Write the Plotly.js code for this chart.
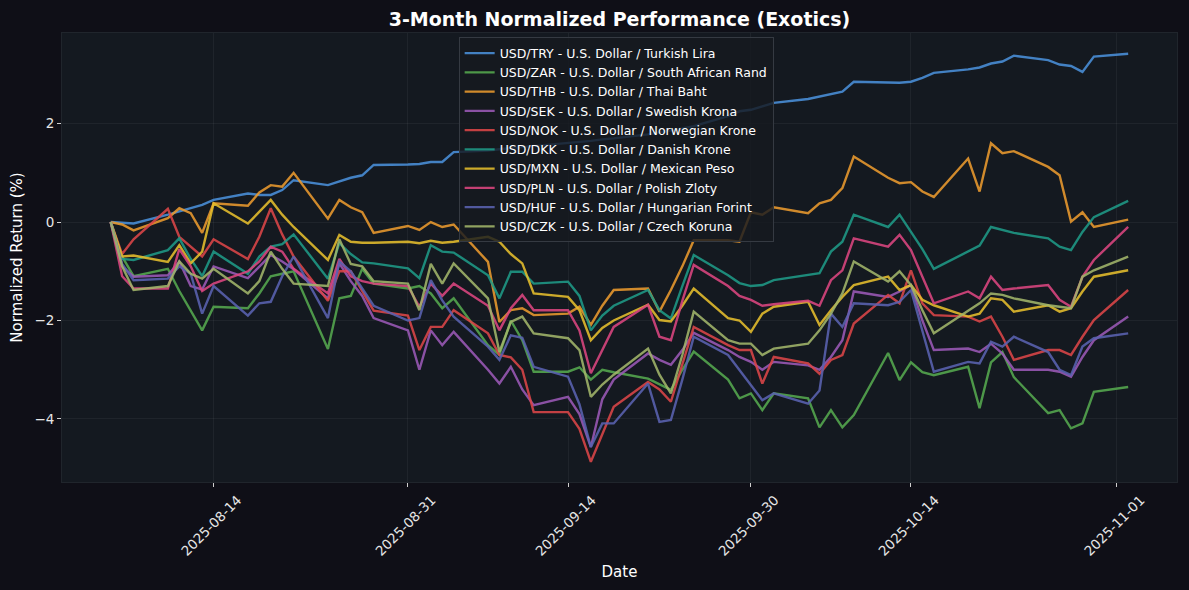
<!DOCTYPE html>
<html>
<head>
<meta charset="utf-8">
<script src="https://cdn.plot.ly/plotly-3.0.1.min.js"></script>
<style>
  html, body { margin: 0; padding: 0; background: #0f0f17; }
  #graph { width: 1189px; height: 590px; }
</style>
</head>
<body>
<div id="graph"></div>
<script>
// trading days as stamped in the source data (Sun-Thu)
const dates = [
  '2025-08-05', '2025-08-06', '2025-08-07',
  '2025-08-10', '2025-08-11', '2025-08-12', '2025-08-13', '2025-08-14',
  '2025-08-17', '2025-08-18', '2025-08-19', '2025-08-20', '2025-08-21',
  '2025-08-24', '2025-08-25', '2025-08-26', '2025-08-27', '2025-08-28',
  '2025-08-31', '2025-09-01', '2025-09-02', '2025-09-03', '2025-09-04',
  '2025-09-07', '2025-09-08', '2025-09-09', '2025-09-10', '2025-09-11',
  '2025-09-14', '2025-09-15', '2025-09-16', '2025-09-17', '2025-09-18',
  '2025-09-21', '2025-09-22', '2025-09-23', '2025-09-24', '2025-09-25',
  '2025-09-28', '2025-09-29', '2025-09-30', '2025-10-01', '2025-10-02',
  '2025-10-05', '2025-10-06', '2025-10-07', '2025-10-08', '2025-10-09',
  '2025-10-12', '2025-10-13', '2025-10-14', '2025-10-15', '2025-10-16',
  '2025-10-19', '2025-10-20', '2025-10-21', '2025-10-22', '2025-10-23',
  '2025-10-26', '2025-10-27', '2025-10-28', '2025-10-29', '2025-10-30',
  '2025-11-02'
];

const usdTry = [0, -0.02, -0.03,
  0.15, 0.22, 0.28, 0.35, 0.45,   0.58, 0.55, 0.55, 0.65, 0.85,
  0.75, 0.82, 0.9, 0.95, 1.16,    1.17, 1.18, 1.22, 1.22, 1.42,
  1.45, 1.48, 1.5, 1.52, 1.55,    1.6, 1.62, 1.65, 1.68, 1.7,
  1.78, 1.82, 1.85, 1.9, 1.95,    2.15, 2.25, 2.28, 2.35, 2.42,
  2.5, 2.55, 2.6, 2.65, 2.85,     2.84, 2.83, 2.85, 2.93, 3.03,
  3.1, 3.14, 3.22, 3.26, 3.38,    3.29, 3.2, 3.17, 3.05, 3.36,
  3.42];
const usdZar = [0, -0.7, -1.1,
  -0.95, -1.4, -1.8, -2.2, -1.72,  -1.75, -1.45, -1.1, -1.05, -1.0,
  -2.58, -1.55, -1.5, -0.95, -1.25, -1.35, -1.3, -1.45, -1.75, -1.55,
  -2.5, -2.7, -2.0, -2.4, -3.04,   -3.04, -2.95, -3.2, -3.0, -3.05,
  -3.18, -3.3, -3.41, -3.0, -2.63, -3.2, -3.58, -3.48, -3.82, -3.48,
  -3.58, -4.17, -3.82, -4.17, -3.92, -2.66, -3.21, -2.85, -3.05, -3.11,
  -2.94, -3.78, -2.85, -2.64, -3.15, -3.88, -3.82, -4.19, -4.09, -3.45,
  -3.35];
const usdThb = [0, -0.05, -0.17,
  0.08, 0.28, 0.18, -0.22, 0.38,   0.33, 0.6, 0.75, 0.72, 1.0,
  0.07, 0.45, 0.3, 0.2, -0.22,     -0.08, -0.16, 0.0, -0.1, -0.05,
  -0.81, -2.03, -1.79, -1.75, -1.89, -1.86, -1.72, -2.09, -1.7, -1.38,
  -1.35, -1.82, -1.38, -0.9, -0.37, -0.37, -0.4, 0.2, 0.15, 0.3,
  0.18, 0.38, 0.45, 0.69, 1.33,    0.9, 0.79, 0.81, 0.62, 0.51,
  1.29, 0.62, 1.6, 1.4, 1.44,      1.12, 0.95, 0.01, 0.2, -0.1,
  0.05];
const usdSek = [0, -0.9, -1.11,
  -1.08, -0.8, -1.3, -1.37, -0.9,  -1.14, -0.9, -0.67, -0.8, -0.96,
  -1.55, -0.84, -1.2, -1.5, -1.95, -2.2, -3.0, -2.2, -2.5, -2.23,
  -3.0, -3.28, -2.94, -3.4, -3.72, -3.55, -3.9, -4.57, -3.6, -3.2,
  -2.67, -2.8, -2.9, -2.6, -2.25,  -2.6, -2.74, -2.84, -3.0, -2.84,
  -2.91, -3.0, -2.74, -2.4, -1.41, -1.52, -1.41, -1.28, -2.0, -2.6,
  -2.57, -2.64, -2.47, -2.67, -3.0, -3.0, -3.04, -3.14, -2.74, -2.4,
  -1.92];
const usdNok = [0, -0.65, -0.35,
  0.27, -0.3, -0.5, -0.7, -0.35,   -0.75, -0.3, 0.28, -0.25, -0.7,
  -1.6, -1.0, -1.0, -1.4, -1.8,    -1.9, -2.6, -2.13, -2.13, -1.79,
  -2.26, -2.7, -2.75, -3.0, -3.86, -3.86, -4.2, -4.87, -4.3, -3.75,
  -3.25, -3.4, -3.65, -2.9, -2.13, -2.5, -2.6, -2.6, -3.28, -2.74,
  -2.87, -3.08, -2.8, -2.7, -2.06, -1.48, -1.65, -0.98, -1.65, -1.89,
  -1.92, -2.02, -1.92, -2.33, -2.8, -2.6, -2.6, -2.7, -2.33, -1.99,
  -1.38];
const usdDkk = [0, -0.75, -0.77,
  -0.57, -0.33, -0.75, -1.1, -0.6, -1.05, -0.7, -0.5, -0.45, -0.25,
  -1.15, -0.43, -0.65, -0.82, -0.84, -0.94, -1.14, -0.47, -0.6, -0.62,
  -1.08, -1.55, -1.01, -1.01, -1.25, -1.21, -1.5, -2.2, -1.9, -1.7,
  -1.38, -1.79, -1.96, -1.3, -0.67, -1.08, -1.24, -1.3, -1.28, -1.18,
  -1.08, -1.04, -0.6, -0.4, 0.15,  -0.1, 0.15, -0.2, -0.55, -0.95,
  -0.6, -0.48, -0.1, -0.16, -0.22, -0.33, -0.5, -0.57, -0.2, 0.1,
  0.43];
const usdMxn = [0, -0.7, -0.68,
  -0.81, -0.47, -0.84, -0.6, 0.38, -0.03, 0.2, 0.45, 0.15, -0.1,
  -0.77, -0.26, -0.4, -0.42, -0.42, -0.4, -0.43, -0.38, -0.42, -0.4,
  -0.3, -0.4, -0.65, -0.84, -1.45, -1.52, -1.79, -2.4, -2.15, -2.0,
  -1.68, -1.99, -2.02, -1.7, -1.35, -1.95, -2.0, -2.23, -1.86, -1.72,
  -1.62, -2.09, -1.79, -1.52, -1.28, -1.11, -1.38, -1.28, -1.58, -1.69,
  -1.92, -1.86, -1.55, -1.58, -1.82, -1.69, -1.82, -1.75, -1.41, -1.11,
  -0.98];
const usdPln = [0, -1.1, -1.35,
  -1.35, -0.55, -0.9, -1.4, -1.25, -1.0, -0.8, -0.5, -0.6, -0.95,
  -1.45, -0.75, -1.1, -1.2, -1.25, -1.3, -1.72, -1.25, -1.5, -1.25,
  -1.7, -2.2, -1.75, -1.48, -1.79, -1.79, -2.2, -3.07, -2.6, -2.13,
  -1.68, -2.33, -2.4, -1.6, -0.87, -1.3, -1.5, -1.58, -1.7, -1.67,
  -1.6, -1.7, -1.18, -0.98, -0.33, -0.5, -0.26, -0.57, -1.11, -1.65,
  -1.41, -1.55, -1.11, -1.38, -1.35, -1.28, -1.58, -1.72, -1.11, -0.77,
  -0.1];
const usdHuf = [0, -0.85, -1.18,
  -1.15, -0.9, -1.05, -1.86, -1.3, -1.9, -1.65, -1.62, -1.1, -0.7,
  -1.95, -0.8, -1.0, -1.35, -1.7,  -2.0, -1.95, -1.18, -1.59, -1.92,
  -2.53, -2.8, -2.3, -2.35, -2.94, -3.14, -3.7, -4.57, -4.09, -4.09,
  -3.28, -4.06, -4.02, -3.2, -2.33, -2.7, -3.0, -3.3, -3.62, -3.48,
  -3.69, -3.42, -1.86, -2.13, -1.65, -1.69, -1.62, -1.38, -2.2, -3.04,
  -2.84, -2.87, -2.43, -2.53, -2.33, -2.64, -3.0, -3.11, -2.53, -2.36,
  -2.26];
const usdCzk = [0, -0.9, -1.38,
  -1.3, -0.8, -1.05, -1.15, -0.95, -1.45, -1.2, -0.6, -0.95, -1.25,
  -1.3, -0.35, -0.85, -0.9, -1.2,  -1.25, -1.79, -0.85, -1.25, -0.84,
  -1.55, -2.64, -2.03, -1.92, -2.26, -2.36, -2.6, -3.55, -3.3, -3.1,
  -2.57, -3.1, -3.48, -2.7, -1.82, -2.4, -2.47, -2.47, -2.7, -2.57,
  -2.47, -2.2, -1.86, -1.45, -0.8, -1.21, -1.0, -1.28, -1.79, -2.26,
  -1.79, -1.65, -1.45, -1.48, -1.55, -1.69, -1.72, -1.75, -1.11, -0.98,
  -0.7];

const pairNames = [
  'USD/TRY - U.S. Dollar / Turkish Lira',
  'USD/ZAR - U.S. Dollar / South African Rand',
  'USD/THB - U.S. Dollar / Thai Baht',
  'USD/SEK - U.S. Dollar / Swedish Krona',
  'USD/NOK - U.S. Dollar / Norwegian Krone',
  'USD/DKK - U.S. Dollar / Danish Krone',
  'USD/MXN - U.S. Dollar / Mexican Peso',
  'USD/PLN - U.S. Dollar / Polish Zloty',
  'USD/HUF - U.S. Dollar / Hungarian Forint',
  'USD/CZK - U.S. Dollar / Czech Koruna'
];
const pairValues = [usdTry, usdZar, usdThb, usdSek, usdNok, usdDkk, usdMxn, usdPln, usdHuf, usdCzk];
const pairColors = ['#4a90d9', '#55a84f', '#eb9a2e', '#9b59b6', '#dc4548',
                    '#1f9a86', '#e6be2c', '#dc4580', '#5a62b0', '#a2b56a'];

const tickDates = ['2025-08-14', '2025-08-31', '2025-09-14', '2025-09-30', '2025-10-14', '2025-11-01'];

plot();

function plot() {
  const traces = pairValues.map((vals, i) => ({
    x: dates,
    y: vals,
    mode: 'lines',
    name: pairNames[i],
    opacity: 0.88,
    line: { color: pairColors[i], width: 2.4 }
  }));

  const layout = {
    width: 1189,
    height: 590,
    paper_bgcolor: '#0f0f17',
    plot_bgcolor: '#141920',
    font: { family: 'DejaVu Sans', color: '#ffffff' },
    margin: { l: 62, r: 12, t: 33, b: 108, pad: 0 },
    title: {
      text: '<b>3-Month Normalized Performance (Exotics)</b>',
      font: { size: 19, color: '#ffffff' },
      x: 0.5, xref: 'paper', xanchor: 'center',
      y: 0.968, yref: 'container', yanchor: 'middle'
    },
    xaxis: {
      type: 'date',
      range: ['2025-07-31 17:45', '2025-11-06 06:30'],
      tickvals: tickDates,
      tickformat: '%Y-%m-%d',
      tickangle: -45,
      ticklabelshift: 24,
      ticks: 'outside', ticklen: 4, tickcolor: '#d0d0d0',
      tickfont: { size: 13.5, color: '#e6e6e6' },
      showgrid: true, gridcolor: 'rgba(255,255,255,0.05)', gridwidth: 1,
      showline: true, linecolor: '#20252c', mirror: true,
      zeroline: false,
      title: { text: 'Date', font: { size: 15, color: '#ffffff' }, standoff: 8 }
    },
    yaxis: {
      range: [-5.28, 3.84],
      tickvals: [-4, -2, 0, 2],
      ticks: 'outside', ticklen: 4, tickcolor: '#d0d0d0',
      tickfont: { size: 13.5, color: '#e6e6e6' },
      showgrid: true, gridcolor: 'rgba(255,255,255,0.05)', gridwidth: 1,
      showline: true, linecolor: '#20252c', mirror: true,
      zeroline: false,
      title: { text: 'Normalized Return (%)', font: { size: 15, color: '#ffffff' }, standoff: 8 }
    },
    legend: {
      x: 0.497, xanchor: 'center',
      y: 0.99, yanchor: 'top',
      bgcolor: 'rgba(22,26,32,0.82)',
      bordercolor: '#353a42', borderwidth: 1,
      font: { size: 12.5, color: '#ffffff' },
      itemwidth: 30,
      orientation: 'v'
    },
    showlegend: true
  };

  Plotly.newPlot('graph', traces, layout, { displayModeBar: false, staticPlot: true });
}
</script>
</body>
</html>
